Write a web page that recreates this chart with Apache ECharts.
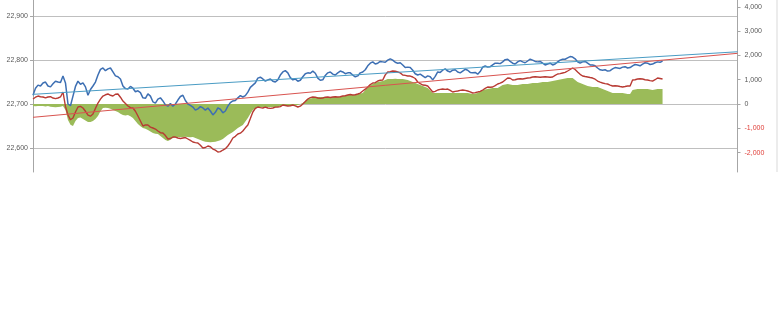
<!DOCTYPE html>
<html>
<head>
<meta charset="utf-8">
<script src="https://cdn.jsdelivr.net/npm/echarts@6/dist/echarts.min.js"></script>
<style>
html,body{margin:0;padding:0;background:#fff;}
#c{width:780px;height:314px;}
</style>
</head>
<body>
<div id="c"></div>
<script>
// Index level (left axis)
const indexLevel = [
22720,22736,22743,22741,22748,22750,22741,22739,22746,22752,22750,22749,22764,22748,22700,22696,
22718,22740,22752,22745,22748,22739,22720,22733,22741,22750,22766,22779,22782,22776,22780,22782,
22773,22764,22762,22757,22741,22735,22734,22740,22736,22728,22730,22726,22714,22713,22723,22718,
22705,22702,22711,22714,22707,22698,22695,22701,22695,22700,22709,22717,22720,22708,22700,22697,
22693,22686,22689,22694,22691,22686,22691,22684,22675,22681,22691,22688,22680,22684,22695,22703,
22707,22708,22714,22719,22716,22719,22727,22738,22743,22748,22759,22761,22757,22752,22755,22757,
22752,22750,22755,22766,22773,22776,22771,22760,22755,22757,22752,22754,22762,22769,22771,22770,
22775,22770,22759,22754,22755,22765,22771,22773,22768,22766,22771,22775,22773,22769,22771,22771,
22766,22762,22764,22771,22773,22778,22787,22793,22796,22791,22793,22797,22796,22795,22800,22803,
22800,22795,22793,22794,22789,22783,22784,22783,22777,22769,22766,22768,22764,22760,22764,22762,
22755,22763,22773,22772,22777,22780,22775,22773,22777,22778,22773,22771,22775,22779,22777,22772,
22771,22772,22768,22774,22784,22787,22784,22785,22789,22793,22793,22792,22796,22801,22802,22797,
22793,22791,22796,22799,22796,22794,22798,22802,22800,22797,22796,22797,22793,22789,22791,22793,
22789,22791,22796,22800,22802,22802,22805,22808,22807,22803,22796,22793,22796,22797,22793,22789,
22789,22787,22782,22778,22777,22778,22775,22776,22780,22783,22782,22781,22784,22785,22782,22783,
22787,22790,22789,22787,22791,22794,22793,22790,22791,22794,22796,22795,22798];
// Cumulative series (right axis)
const cumulative = [
206,280,329,300,288,250,288,300,247,220,247,290,494,-100,-453,-650,
-576,-330,-123,-100,-165,-300,-453,-500,-412,-180,41,200,329,380,412,360,
329,400,412,280,123,20,-82,-150,-165,-300,-494,-700,-905,-860,-864,-950,
-988,-1030,-1111,-1180,-1193,-1300,-1440,-1420,-1358,-1360,-1399,-1420,-1399,-1380,-1440,-1500,
-1564,-1590,-1605,-1700,-1811,-1790,-1728,-1760,-1852,-1900,-1975,-1960,-1893,-1840,-1728,-1580,
-1399,-1330,-1235,-1200,-1111,-980,-864,-600,-329,-180,-123,-150,-165,-130,-165,-180,
-165,-130,-123,-110,-41,-60,-82,-70,-41,-80,-123,-90,0,100,206,260,
288,280,247,230,247,280,288,270,288,300,288,300,329,340,370,390,
370,380,412,450,535,610,700,800,864,880,946,980,988,1200,1317,1330,
1358,1350,1317,1280,1193,1180,1152,1150,1111,1050,905,840,782,770,741,620,
494,520,576,600,617,600,617,560,494,520,535,560,576,560,535,500,
453,470,494,520,576,640,700,690,700,760,823,860,905,990,1070,1060,
988,1000,1029,1040,1029,1050,1070,1080,1111,1120,1111,1100,1111,1120,1111,1100,
1111,1180,1235,1250,1276,1300,1358,1420,1481,1420,1317,1220,1152,1130,1111,1090,
1070,1020,946,900,864,840,823,780,741,750,741,720,700,720,741,741,
988,1000,1029,1040,1029,1000,988,960,946,1000,1070,1050,1029];
// Area series (right axis)
const spread = [
-82,-90,-82,-80,-82,-100,-82,-110,-123,-130,-123,-110,-82,-250,-658,-850,
-905,-700,-576,-560,-617,-680,-741,-740,-700,-620,-494,-300,-165,-150,-165,-200,
-247,-290,-329,-400,-453,-470,-453,-500,-576,-700,-823,-920,-988,-1020,-1070,-1130,
-1193,-1220,-1235,-1320,-1399,-1480,-1523,-1470,-1399,-1370,-1358,-1360,-1358,-1350,-1358,-1370,
-1358,-1400,-1440,-1480,-1523,-1550,-1564,-1570,-1564,-1550,-1523,-1490,-1440,-1360,-1276,-1210,
-1152,-1070,-988,-930,-864,-720,-576,-400,-247,-190,-165,-140,-123,-130,-123,-120,
-123,-130,-123,-80,-41,-60,-82,-80,-82,-60,-41,0,41,120,206,230,
247,270,288,290,288,280,288,290,288,290,288,310,329,350,370,370,
370,390,412,430,453,580,700,770,823,870,905,930,946,990,1029,1030,
1029,1040,1029,1030,1029,1010,988,950,905,860,823,780,741,700,658,560,
453,453,453,453,453,453,453,453,453,453,453,453,453,453,453,430,
412,430,453,510,576,600,617,640,658,658,658,720,782,800,823,800,
782,782,782,800,823,823,823,840,864,864,864,885,905,905,905,925,
946,967,988,1010,1029,1050,1070,1070,1070,990,905,860,823,780,741,720,
700,700,700,660,617,575,535,495,453,453,453,453,453,430,412,412,
576,600,617,617,617,617,617,600,576,600,617,617,617];
// Linear trend endpoints (first and last category)
const indexTrend = [22722, 22819];
const cumulativeTrend = [-547, 2086];
const categoryCount = 283;

const pairs = arr => arr.map((v, i) => [i, v]);
const trendPairs = t => [[0, t[0]], [categoryCount - 1, t[1]]];
const fmt = v => Math.round(v).toLocaleString('en-US');
const FONT = 'Liberation Sans, Arial, sans-serif';

const chart = echarts.init(document.getElementById('c'), null, {renderer: 'canvas'});
chart.setOption({
  animation: false,
  backgroundColor: '#ffffff',
  grid: {left: 33, right: 42.5, top: 0, height: 172, containLabel: false},
  xAxis: {type: 'value', min: 0, max: categoryCount - 1, show: false},
  yAxis: [
    {
      type: 'value', position: 'left', min: 22545, max: 22937, splitNumber: 4,
      axisLine: {show: true, lineStyle: {color: '#a6a6a6', width: 1}},
      axisTick: {show: true, length: 3, lineStyle: {color: '#a6a6a6'}},
      axisLabel: {showMinLabel: false, showMaxLabel: false, fontSize: 7, color: '#595959', margin: 5,
        fontFamily: FONT, formatter: fmt},
      splitLine: {show: true, showMinLine: false, showMaxLine: false, lineStyle: {color: '#bfbfbf', width: 1}}
    },
    {
      type: 'value', position: 'right', min: -2798, max: 4280, splitNumber: 7,
      axisLine: {show: true, lineStyle: {color: '#a6a6a6', width: 1}},
      axisTick: {show: true, length: 3, lineStyle: {color: '#a6a6a6'}},
      axisLabel: {showMinLabel: false, showMaxLabel: false, fontSize: 7, color: '#595959', margin: 7,
        fontFamily: FONT,
        formatter: v => v < 0 ? '{neg|' + fmt(v) + '}' : fmt(v),
        rich: {neg: {color: '#e0403a', fontSize: 7, fontFamily: FONT}}},
      splitLine: {show: false}
    }
  ],
  graphic: [{type: 'line', shape: {x1: 777, y1: 0, x2: 777, y2: 172}, style: {stroke: '#d9d9d9', lineWidth: 1}}],
  series: [
    {type: 'line', yAxisIndex: 1, data: pairs(spread), showSymbol: false, lineStyle: {width: 0},
      areaStyle: {color: '#9bbb59', opacity: 1}, itemStyle: {color: '#9bbb59'}, z: 1},
    {type: 'line', yAxisIndex: 1, data: pairs(cumulative), showSymbol: false,
      lineStyle: {color: '#b83a33', width: 1.4}, itemStyle: {color: '#b83a33'}, z: 3},
    {type: 'line', yAxisIndex: 0, data: pairs(indexLevel), showSymbol: false,
      lineStyle: {color: '#3d6fb3', width: 1.5}, itemStyle: {color: '#3d6fb3'}, z: 4},
    {type: 'line', yAxisIndex: 0, data: trendPairs(indexTrend), showSymbol: false,
      lineStyle: {color: '#4a9cc4', width: 1}, itemStyle: {color: '#4a9cc4'}, z: 5},
    {type: 'line', yAxisIndex: 1, data: trendPairs(cumulativeTrend), showSymbol: false,
      lineStyle: {color: '#d9534f', width: 1}, itemStyle: {color: '#d9534f'}, z: 5}
  ]
});
</script>
</body>
</html>
